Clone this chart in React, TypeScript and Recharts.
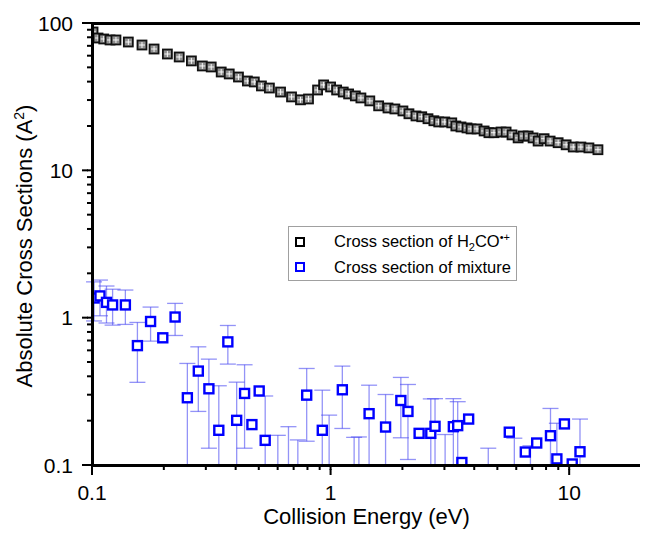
import React from "react";
import { ScatterChart, Scatter, XAxis, YAxis, ErrorBar, Legend } from "recharts";

const FONT = "'Liberation Sans', Arial, sans-serif";

// H2CO.+ cross section (A^2) vs collision energy (eV)
const h2coEnergy = [
  0.101, 0.106, 0.112, 0.119, 0.126, 0.142, 0.162, 0.182, 0.207, 0.232, 0.261, 0.29, 0.316, 0.348, 0.376,
  0.411, 0.448, 0.479, 0.513, 0.554, 0.617, 0.686, 0.748, 0.808, 0.882, 0.935, 1.0, 1.06, 1.13, 1.19, 1.27,
  1.34, 1.46, 1.59, 1.74, 1.86, 2.01, 2.13, 2.28, 2.41, 2.56, 2.71, 2.84, 3.01, 3.22, 3.35, 3.52, 3.73, 3.88,
  4.11, 4.4, 4.61, 4.84, 5.18, 5.44, 5.76, 6.11, 6.41, 6.73, 7.06, 7.41, 7.85, 8.32, 8.99, 9.71, 10.4, 11.2,
  12.1, 13.2,
];
const h2coCross = [
  86.9, 79.1, 77.9, 76.7, 76.7, 74.3, 70.9, 66.6, 61.6, 58.8, 55.3, 51.1, 50.3, 46.5, 45.1, 43.0, 40.4, 39.8,
  37.4, 36.2, 34.0, 31.5, 30.1, 30.5, 35.1, 38.0, 36.8, 35.1, 34.0, 33.0, 32.0, 31.0, 29.6, 27.4, 26.5, 26.1,
  25.3, 24.2, 23.4, 23.1, 22.4, 21.7, 21.3, 21.3, 21.0, 20.0, 19.7, 19.4, 19.1, 19.1, 18.5, 18.0, 18.0, 18.2,
  18.2, 17.4, 16.6, 17.1, 17.1, 16.6, 15.8, 16.4, 15.8, 15.4, 14.9, 14.4, 14.4, 14.2, 13.8,
];

// mixture: value, upper and lower end of the error bar (null = no bar drawn)
// values under 0.1 sit below the axis, only their bars show
const mixEnergy = [
  0.102, 0.108, 0.115, 0.122, 0.138, 0.155, 0.176, 0.198, 0.223, 0.251, 0.279, 0.309, 0.34, 0.371, 0.404,
  0.436, 0.468, 0.502, 0.532, 0.601, 0.666, 0.729, 0.794, 0.923, 0.986, 1.12, 1.255, 1.314, 1.45, 1.7, 1.97,
  2.11, 2.35, 2.63, 2.74, 3.02, 3.27, 3.41, 3.55, 3.79, 4.58, 5.61, 5.89, 6.55, 6.88, 7.31, 8.35, 8.88, 9.55,
  10.3, 11.1,
];
const mixCross = [
  1.36, 1.405, 1.27, 1.22, 1.22, 0.646, 0.942, 0.73, 1.01, 0.286, 0.434, 0.329, 0.172, 0.685, 0.201, 0.306,
  0.188, 0.318, 0.147, 0.06, 0.06, 0.06, 0.298, 0.172, 0.06, 0.324, 0.06, 0.06, 0.223, 0.181, 0.274, 0.231,
  0.164, 0.164, 0.183, 0.06, 0.182, 0.185, 0.104, 0.205, 0.06, 0.167, 0.06, 0.1225, 0.06, 0.141, 0.158, 0.11,
  0.19, 0.1016, 0.123,
];
const mixHigh = [
  1.75, 1.8, 1.64, 1.56, 1.54, 0.928, 1.18, null, 1.25, 0.489, 0.634, 0.523, 0.345, 0.885, 0.365, 0.479, null,
  null, 0.294, 0.159, 0.182, 0.148, 0.452, 0.322, 0.218, 0.469, 0.154, 0.155, 0.348, 0.301, 0.393, 0.352, null,
  0.281, 0.282, 0.161, 0.282, 0.269, null, null, 0.13, null, 0.152, null, 0.135, null, 0.242, 0.192, null, null,
  0.205,
];
const mixLow = [
  0.95, 1.03, 0.92, 0.89, 0.9, 0.364, 0.693, null, 0.757, 0.05, 0.231, 0.13, 0.05, 0.484, 0.05, 0.13, null,
  null, 0.05, 0.02, 0.02, 0.02, 0.145, 0.05, 0.02, 0.177, 0.02, 0.02, 0.05, 0.05, 0.153, 0.109, null, 0.05,
  0.05, 0.02, 0.05, 0.05, null, null, 0.02, null, 0.02, null, 0.02, null, 0.05, 0.05, null, null, 0.05,
];

const xTicks = [0.1, 0.2, 0.3, 0.4, 0.5, 0.6, 0.7, 0.8, 0.9, 1, 2, 3, 4, 5, 6, 7, 8, 9, 10, 20];
const xMajor = [0.1, 1, 10];
const yTicks = [
  0.1, 0.2, 0.3, 0.4, 0.5, 0.6, 0.7, 0.8, 0.9, 1, 2, 3, 4, 5, 6, 7, 8, 9, 10, 20, 30, 40, 50, 60, 70, 80, 90,
  100,
];
const yMajor = [0.1, 1, 10, 100];

const AXIS_MIN = 0.1; // bars running below the axis end there

const h2coData = h2coEnergy.map((e, i) => ({ x: e, y: h2coCross[i] }));
const mixData = mixEnergy.map((e, i) => {
  const hi = mixHigh[i];
  const lo = mixLow[i];
  const v = mixCross[i];
  const bottom = lo == null ? v : Math.max(lo, AXIS_MIN);
  return {
    x: e,
    y: v,
    err: hi == null ? undefined : [v - bottom, hi - v],
  };
});

// chart box and plot frame (svg sits at the 8px body margin)
const W = 640;
const H = 527;
const M = { top: 5, right: 0, bottom: 0, left: 0 };
const LEFT_W = 84;
const RIGHT_W = 7;
const TOP_H = 10;
const BOTTOM_H = 70;
const FRAME = 3;

// minor tick = recharts tick line; majors get an extra piece in the tick renderer
const MINOR = 5;
const tickLine = { stroke: "#000", strokeWidth: 2 };

// tick props x/y arrive at the outer end of the minor tick line
const bottomTick = (props: any) => {
  const { x, y, payload } = props;
  if (!xMajor.includes(payload.value)) return <g />;
  return (
    <g>
      <rect x={x - 1} y={y - 1} width={2} height={6} fill="#000" />
      <text x={x} y={y + 30} textAnchor="middle" fontSize={21} fontFamily={FONT} fill="#000">
        {String(payload.value)}
      </text>
    </g>
  );
};

const topTick = (props: any) => {
  const { x, y, payload } = props;
  if (!xMajor.includes(payload.value)) return <g />;
  return <rect x={x - 1} y={y - 5} width={2} height={6} fill="#000" />;
};

const leftTick = (props: any) => {
  const { x, y, payload } = props;
  if (!yMajor.includes(payload.value)) return <g />;
  return (
    <g>
      <rect x={x - 5} y={y - 1} width={6} height={2} fill="#000" />
      <text x={x - 14} y={y + 7.5} textAnchor="end" fontSize={21} fontFamily={FONT} fill="#000">
        {String(payload.value)}
      </text>
    </g>
  );
};

const rightTick = (props: any) => {
  const { x, y, payload } = props;
  if (!yMajor.includes(payload.value)) return <g />;
  return <rect x={x - 1} y={y - 1} width={4} height={2} fill="#000" />;
};

const h2coShape = (props: any) => {
  const { cx, cy } = props;
  return (
    <g>
      <rect x={cx - 4.5} y={cy - 4.5} width={9} height={9} fill="#8f8f8f" stroke="#111" strokeWidth={1.8} />
      <line x1={cx - 3} x2={cx + 3} y1={cy} y2={cy} stroke="#fff" strokeWidth={0.9} />
      <line x1={cx} x2={cx} y1={cy - 3} y2={cy + 3} stroke="#fff" strokeWidth={0.9} />
    </g>
  );
};

const mixShape = (props: any) => {
  const { cx, cy } = props;
  return <rect x={cx - 4.5} y={cy - 4.5} width={9} height={9} fill="#fff" stroke="#0000ff" strokeWidth={2.4} />;
};

const yTitle = (props: any) => {
  const vb = props.viewBox;
  const cy = vb.y + vb.height / 2 + 2;
  return (
    <text
      x={24}
      y={cy}
      transform={`rotate(-90, 24, ${cy})`}
      textAnchor="middle"
      fontSize={22}
      fontFamily={FONT}
      fill="#000"
    >
      Absolute Cross Sections (A
      <tspan dy={-8} fontSize={14}>
        2
      </tspan>
      <tspan dy={8}>)</tspan>
    </text>
  );
};

const xTitle = (props: any) => {
  const vb = props.viewBox;
  return (
    <text x={vb.x + vb.width / 2} y={vb.y + 59} textAnchor="middle" fontSize={22} fontFamily={FONT} fill="#000">
      Collision Energy (eV)
    </text>
  );
};

const legendBox = () => (
  <div
    style={{
      position: "relative",
      width: 229,
      height: 55,
      boxSizing: "border-box",
      border: "1px solid #a0a0a0",
      background: "#fff",
      fontFamily: FONT,
      fontSize: 16.5,
      color: "#000",
    }}
  >
    <div style={{ position: "absolute", left: 0, top: 4, height: 22, display: "flex", alignItems: "center" }}>
      <svg width={12} height={12} style={{ marginLeft: 5 }}>
        <rect x={2} y={2} width={8} height={8} fill="#fff" stroke="#000" strokeWidth={2} />
      </svg>
      <span style={{ marginLeft: 28, whiteSpace: "nowrap", lineHeight: "22px" }}>
        Cross section of H
        <span style={{ fontSize: 11, position: "relative", top: 4 }}>2</span>
        CO
        <span style={{ fontSize: 11, position: "relative", top: -6 }}>•+</span>
      </span>
    </div>
    <div style={{ position: "absolute", left: 0, top: 29, height: 22, display: "flex", alignItems: "center" }}>
      <svg width={12} height={12} style={{ marginLeft: 5 }}>
        <rect x={2} y={2} width={8} height={8} fill="#fff" stroke="#0000ff" strokeWidth={2} />
      </svg>
      <span style={{ marginLeft: 28, whiteSpace: "nowrap", lineHeight: "22px" }}>Cross section of mixture</span>
    </div>
  </div>
);

export default function App() {
  const plotLeft = M.left + LEFT_W;
  const plotTop = M.top + TOP_H;
  const plotW = W - M.left - M.right - LEFT_W - RIGHT_W;
  const plotH = H - M.top - M.bottom - TOP_H - BOTTOM_H;
  return (
    <div style={{ position: "relative", width: W, height: H }}>
      <ScatterChart width={W} height={H} margin={M}>
        <XAxis
          xAxisId="main"
          dataKey="x"
          type="number"
          scale="log"
          domain={[0.1, 20]}
          allowDataOverflow
          ticks={xTicks}
          interval={0}
          tickLine={tickLine}
          tickSize={MINOR}
          tickMargin={0}
          tick={bottomTick}
          height={BOTTOM_H}
          label={xTitle}
        />
        <YAxis
          yAxisId="main"
          dataKey="y"
          type="number"
          scale="log"
          domain={[0.1, 100]}
          allowDataOverflow
          ticks={yTicks}
          interval={0}
          tickLine={tickLine}
          tickSize={MINOR}
          tickMargin={0}
          tick={leftTick}
          width={LEFT_W}
          label={yTitle}
        />
        <XAxis
          xAxisId="top"
          orientation="top"
          type="number"
          scale="log"
          domain={[0.1, 20]}
          allowDataOverflow
          ticks={xTicks}
          interval={0}
          tickLine={tickLine}
          tickSize={MINOR}
          tickMargin={0}
          tick={topTick}
          height={TOP_H}
        />
        <YAxis
          yAxisId="right"
          orientation="right"
          type="number"
          scale="log"
          domain={[0.1, 100]}
          allowDataOverflow
          ticks={yTicks}
          interval={0}
          tickLine={tickLine}
          tickSize={4}
          tickMargin={0}
          tick={rightTick}
          width={RIGHT_W}
        />
        <Legend
          layout="vertical"
          align="center"
          verticalAlign="middle"
          content={legendBox}
          wrapperStyle={{ left: 280, top: 218, width: 229, height: 55 }}
        />
        <Scatter
          name="Cross section of H2CO.+"
          data={h2coData}
          xAxisId="main"
          yAxisId="main"
          shape={h2coShape}
          isAnimationActive={false}
        />
        <Scatter
          name="Cross section of mixture"
          data={mixData}
          xAxisId="main"
          yAxisId="main"
          shape={mixShape}
          isAnimationActive={false}
        >
          <ErrorBar dataKey="err" direction="y" width={8} stroke="#4b4bf2" strokeOpacity={0.6} strokeWidth={1.3} />
        </Scatter>
      </ScatterChart>
      {/* thick black frame round the plot area */}
      <div
        style={{
          position: "absolute",
          left: plotLeft - FRAME / 2,
          top: plotTop - FRAME / 2,
          width: plotW + FRAME,
          height: plotH + FRAME,
          border: `${FRAME}px solid #000`,
          boxSizing: "border-box",
          pointerEvents: "none",
        }}
      />
    </div>
  );
}
